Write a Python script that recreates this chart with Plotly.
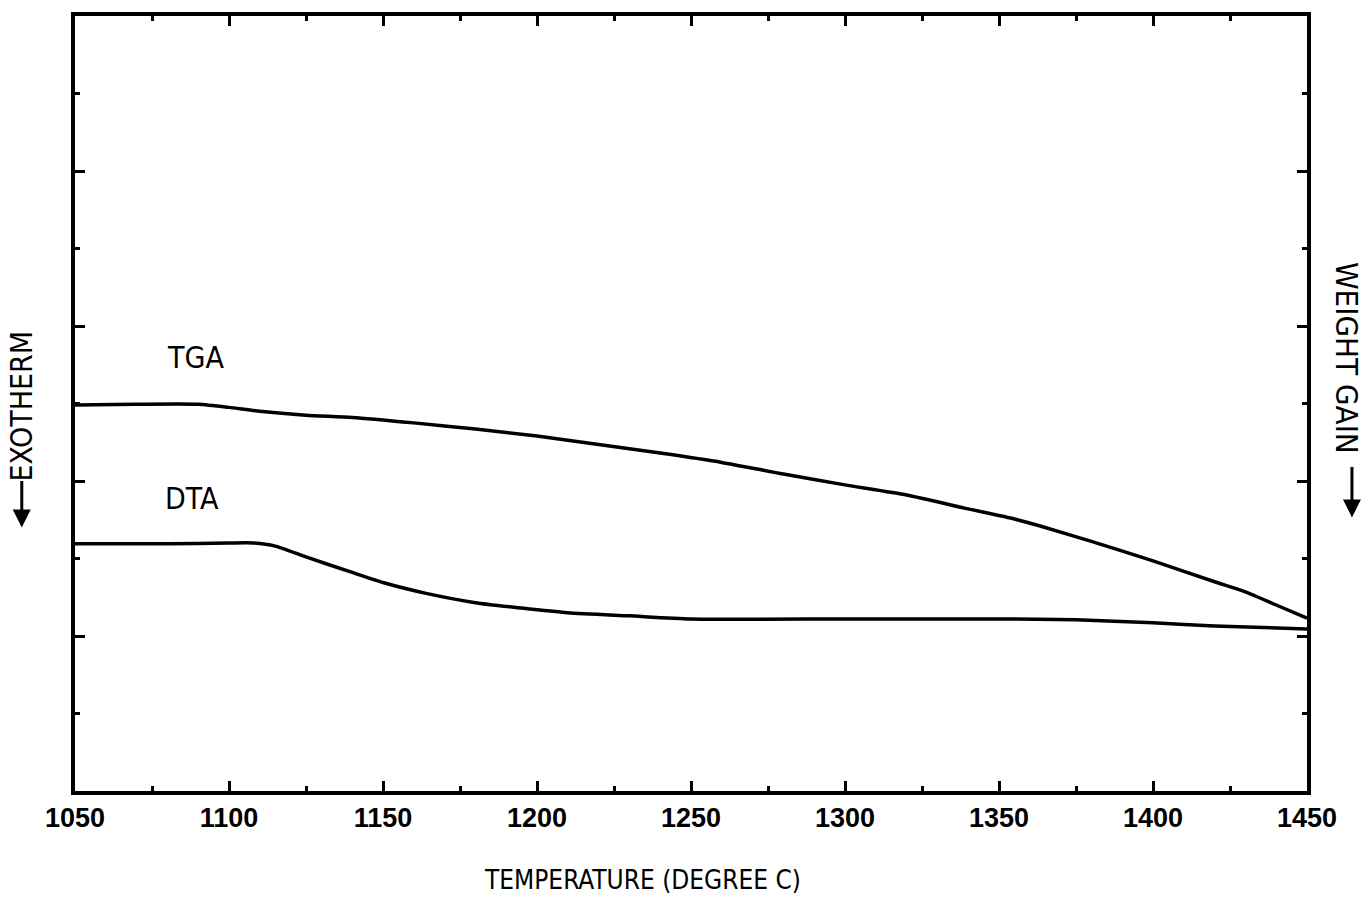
import plotly.graph_objects as go

# Temperature (degree C) sample points and curve values (arbitrary vertical units, 0-10)
tga_temp = [1050, 1070, 1090, 1100, 1110, 1125, 1140, 1160, 1180, 1200, 1220, 1240,
            1260, 1280, 1300, 1320, 1340, 1355, 1365, 1380, 1400, 1420, 1430, 1440, 1450]
tga_val = [4.98, 4.99, 4.99, 4.95, 4.90, 4.85, 4.82, 4.75, 4.67, 4.58, 4.47, 4.36,
           4.24, 4.09, 3.95, 3.82, 3.64, 3.51, 3.40, 3.22, 2.97, 2.70, 2.57, 2.40, 2.23]

dta_temp = [1050, 1080, 1100, 1108, 1115, 1125, 1140, 1150, 1164, 1180, 1195, 1210,
            1230, 1250, 1300, 1350, 1375, 1400, 1420, 1450]
dta_val = [3.19, 3.19, 3.20, 3.20, 3.16, 3.02, 2.82, 2.69, 2.55, 2.43, 2.36, 2.30,
           2.26, 2.22, 2.22, 2.22, 2.21, 2.17, 2.13, 2.09]

x_ticks = [1050, 1100, 1150, 1200, 1250, 1300, 1350, 1400, 1450]
x_tick_labels = [str(v) for v in x_ticks]

curve_labels = ["TGA", "DTA"]
curve_label_pos = [(1089, 5.59), (1088, 3.78)]

x_title = "TEMPERATURE (DEGREE C)"
left_title = "EXOTHERM"
right_title = "WEIGHT GAIN"

narrow = "DejaVu Sans Condensed, DejaVu Sans, sans-serif"


def cond(t):
    return '<span style="font-stretch:condensed">' + t + '</span>'


fig = go.Figure()
fig.add_trace(go.Scatter(x=tga_temp, y=tga_val, mode="lines",
                         line=dict(color="black", width=3.5, shape="spline", smoothing=0.6),
                         showlegend=False, hoverinfo="skip"))
fig.add_trace(go.Scatter(x=dta_temp, y=dta_val, mode="lines",
                         line=dict(color="black", width=3.5, shape="spline", smoothing=0.6),
                         showlegend=False, hoverinfo="skip"))

for txt, (tx, ty) in zip(curve_labels, curve_label_pos):
    fig.add_annotation(x=tx, y=ty, text=cond(txt), showarrow=False,
                       font=dict(family=narrow, size=30, color="black"))

# axis title
fig.add_annotation(xref="paper", yref="paper", x=0.4608, y=-0.1145, text=cond(x_title),
                   showarrow=False, font=dict(family=narrow, size=26, color="black"),
                   xanchor="center", yanchor="middle")

# left rotated title with arrow
fig.add_annotation(xref="paper", yref="paper", x=-0.0432, y=0.497, text=cond(left_title),
                   textangle=-90, showarrow=False,
                   font=dict(family=narrow, size=30, color="black"),
                   xanchor="center", yanchor="middle")
fig.add_annotation(xref="paper", yref="paper", x=-0.0432, y=0.340, ax=0, ay=-48,
                   axref="pixel", ayref="pixel", text="", showarrow=True,
                   arrowhead=2, arrowsize=1.2, arrowwidth=3, arrowcolor="black")

# right rotated title with arrow
fig.add_annotation(xref="paper", yref="paper", x=1.0325, y=0.5586, text=cond(right_title),
                   textangle=90, showarrow=False,
                   font=dict(family=narrow, size=31, color="black"),
                   xanchor="center", yanchor="middle")
fig.add_annotation(xref="paper", yref="paper", x=1.0365, y=0.353, ax=0, ay=-52,
                   axref="pixel", ayref="pixel", text="", showarrow=True,
                   arrowhead=2, arrowsize=1.2, arrowwidth=3, arrowcolor="black")

fig.update_xaxes(range=[1050, 1450], showgrid=False, zeroline=False,
                 showline=True, linecolor="black", linewidth=4, mirror="allticks",
                 ticks="inside", ticklen=10, tickwidth=3, tickcolor="black",
                 tickvals=x_ticks, ticktext=x_tick_labels,
                 tickfont=dict(family="Liberation Sans, Arial, sans-serif", size=27,
                               color="black", weight="bold"),
                 minor=dict(ticks="inside", ticklen=5, tickwidth=3, tickcolor="black", dtick=25,
                            tick0=1050, showgrid=False))
fig.update_yaxes(range=[0, 10], showgrid=False, zeroline=False,
                 showline=True, linecolor="black", linewidth=4, mirror="allticks",
                 ticks="inside", ticklen=10, tickwidth=3, tickcolor="black",
                 dtick=2, tick0=0, showticklabels=False,
                 minor=dict(ticks="inside", ticklen=5, tickwidth=3, tickcolor="black", dtick=1,
                            tick0=0, showgrid=False))

fig.update_layout(width=1370, height=904, autosize=False,
                  margin=dict(l=75, r=63, t=14, b=113),
                  plot_bgcolor="white", paper_bgcolor="white")

fig.write_html("out.html")
